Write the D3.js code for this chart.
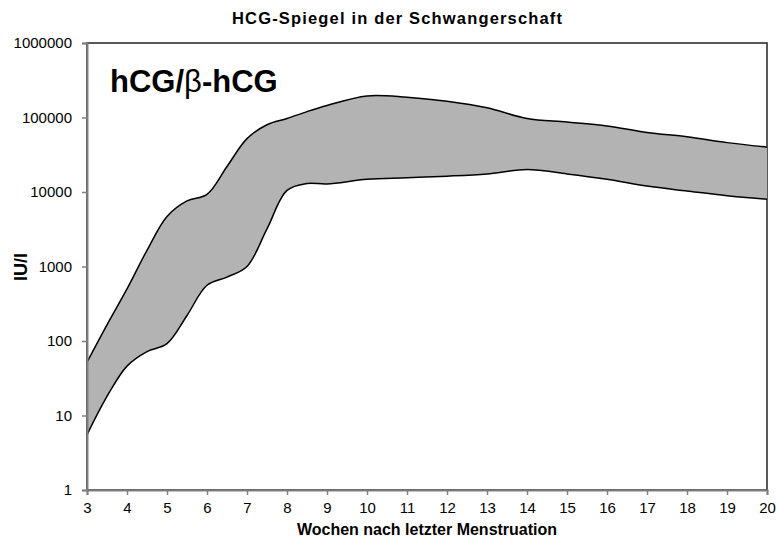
<!DOCTYPE html>
<html>
<head>
<meta charset="utf-8">
<script src="https://cdn.jsdelivr.net/npm/d3@7"></script>
<style>
  body { margin: 0; background: #fff; }
  text { font-family: Arial, "Liberation Sans", sans-serif; fill: #000; }
</style>
</head>
<body>
<svg width="776" height="539"></svg>
<script>
// weeks after last menstruation, and upper / lower bound of the hCG range (IU/l)
var weeks = [3, 3.5, 4, 4.5, 5, 5.5, 6, 6.5, 7, 7.5, 8, 8.5, 9, 10, 11, 12, 13, 14, 15, 16, 17, 18, 19, 20];
var upper = [52, 165, 500, 1650, 4700, 7600, 9300, 22000, 52000, 80000, 97000, 120000, 145000, 195000, 187000, 165000, 135000, 97000, 87000, 77000, 63000, 55000, 46000, 40000];
var lower = [5.5, 18, 46, 72, 92, 220, 560, 720, 1000, 3200, 10500, 13000, 12800, 14800, 15500, 16300, 17500, 20000, 17500, 14800, 12000, 10300, 8900, 8000];

var xTicks = d3.range(3, 21);
var yTicks = [1, 10, 100, 1000, 10000, 100000, 1000000];

var svg = d3.select("svg");
var m = { left: 87, right: 767, top: 43, bottom: 490 };

var x = d3.scaleLinear().domain([3, 20]).range([m.left, m.right]);
var y = d3.scaleLog().domain([1, 1000000]).range([m.bottom, m.top]);

var band = weeks.map(function(w, i) { return { w: w, hi: upper[i], lo: lower[i] }; });

// frame
svg.append("rect")
  .attr("x", m.left).attr("y", m.top)
  .attr("width", m.right - m.left).attr("height", m.bottom - m.top)
  .attr("fill", "none").attr("stroke", "#222").attr("stroke-width", 1.5);

var curve = d3.curveCatmullRom;

svg.append("path")
  .datum(band)
  .attr("fill", "#b3b3b3")
  .attr("d", d3.area().curve(curve)
    .x(function(d) { return x(d.w); })
    .y0(function(d) { return y(d.lo); })
    .y1(function(d) { return y(d.hi); }));

["hi", "lo"].forEach(function(k) {
  svg.append("path")
    .datum(band)
    .attr("fill", "none")
    .attr("stroke", "#000")
    .attr("stroke-width", 1.5)
    .attr("d", d3.line().curve(curve)
      .x(function(d) { return x(d.w); })
      .y(function(d) { return y(d[k]); }));
});

// axes
var xAxis = svg.append("g")
  .attr("transform", "translate(0," + m.bottom + ")")
  .call(d3.axisBottom(x).tickValues(xTicks).tickFormat(d3.format("d")).tickSize(5).tickPadding(7));
var yAxis = svg.append("g")
  .attr("transform", "translate(" + m.left + ",0)")
  .call(d3.axisLeft(y).tickValues(yTicks).tickFormat(d3.format("d")).tickSize(5).tickPadding(10));

[xAxis, yAxis].forEach(function(a) {
  a.select(".domain").attr("stroke", "#7f7f7f").attr("stroke-width", 2);
  a.selectAll(".tick line").attr("stroke", "#7f7f7f").attr("stroke-width", 1.5);
  a.selectAll(".tick text").attr("font-size", 15).attr("font-family", "Arial, 'Liberation Sans', sans-serif").attr("fill", "#000");
});

// titles
svg.append("text")
  .attr("x", 232).attr("y", 24)
  .attr("font-size", 16.5).attr("font-weight", "bold")
  .attr("textLength", 330).attr("lengthAdjust", "spacing")
  .text("HCG-Spiegel  in der Schwangerschaft");

svg.append("text")
  .attr("x", (m.left + m.right) / 2).attr("y", 535)
  .attr("text-anchor", "middle")
  .attr("font-size", 16).attr("font-weight", "bold")
  .text("Wochen nach letzter Menstruation");

svg.append("text")
  .attr("transform", "translate(27,267) rotate(-90)")
  .attr("text-anchor", "middle")
  .attr("font-size", 18).attr("font-weight", "bold")
  .text("IU/l");

var lbl = svg.append("text")
  .attr("x", 110).attr("y", 92)
  .attr("font-size", 31).attr("font-weight", "bold");
lbl.append("tspan").text("hCG/");
lbl.append("tspan").attr("font-weight", "normal").text("β");
lbl.append("tspan").text("-hCG");
</script>
</body>
</html>
